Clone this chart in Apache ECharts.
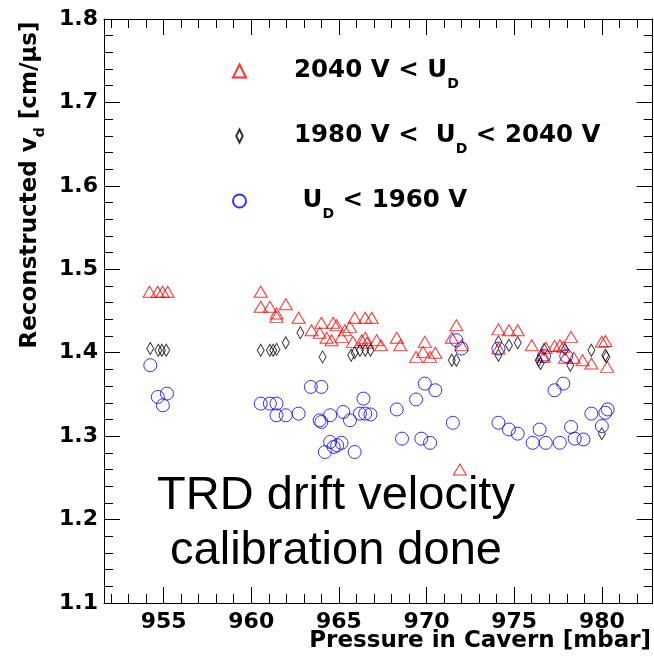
<!DOCTYPE html>
<html><head><meta charset="utf-8">
<script src="https://cdn.jsdelivr.net/npm/echarts@6/dist/echarts.min.js"></script>
<style>html,body{margin:0;padding:0;background:#fff}#c{width:654px;height:661px}</style>
</head><body><div id="c"></div>
<script>
// ---- data ----
const seriesNames = ['2040 V < U_D', '1980 V <  U_D < 2040 V', 'U_D < 1960 V'];
const xMajorTicks = [955, 960, 965, 970, 975, 980];
const xMinorTicks = [952,953,954,955,956,957,958,959,960,961,962,963,964,965,966,967,968,969,970,971,972,973,974,975,976,977,978,979,980,981,982];
const yTickLabels = ['1.1','1.2','1.3','1.4','1.5','1.6','1.7','1.8'];

const highP = [954.2,954.66,954.94,955.23,960.54,960.54,961.06,961.97,961.44,961.44,962.7,963.44,964.0,963.9,964.3,964.58,964.67,964.87,965.15,965.34,965.63,965.9,966.5,966.87,965.8,966.3,966.5,966.6,967.15,967.4,968.3,968.5,969.9,969.4,969.8,970.2,970.5,971.7,971.44,972.0,971.9,974.1,974.7,975.2,976.0,976.8,976.6,976.7,977.3,977.6,977.8,978.24,977.9,978.4,978.9,979.4,980.0,980.2,980.3,974.1];
const highV = [1.473,1.473,1.473,1.473,1.473,1.455,1.455,1.458,1.447,1.443,1.442,1.427,1.436,1.424,1.418,1.415,1.436,1.433,1.419,1.427,1.431,1.442,1.442,1.442,1.413,1.415,1.418,1.412,1.415,1.409,1.418,1.409,1.413,1.395,1.401,1.395,1.400,1.433,1.418,1.409,1.260,1.428,1.427,1.427,1.409,1.406,1.397,1.395,1.408,1.409,1.407,1.419,1.394,1.394,1.391,1.387,1.413,1.414,1.383,1.405];

const midP = [954.24,954.7,954.9,955.15,960.54,961.06,961.25,961.44,961.97,962.8,964.07,965.7,965.9,966.2,966.5,966.8,971.44,971.7,974.1,974.1,974.7,975.2,976.7,976.4,976.5,977.9,978.2,979.4,980.2,980.26,980.0];
const midV = [1.405,1.403,1.403,1.403,1.403,1.403,1.403,1.404,1.412,1.424,1.395,1.397,1.400,1.403,1.403,1.403,1.391,1.391,1.413,1.397,1.409,1.412,1.404,1.391,1.387,1.404,1.385,1.403,1.397,1.395,1.303];

const lowP = [954.24,954.67,955.19,954.96,960.54,961.06,961.44,961.44,961.97,962.7,963.4,964.0,963.9,964.0,964.5,965.25,965.63,966.4,966.2,966.5,966.8,968.3,968.6,969.4,969.9,970.5,969.7,970.2,971.5,971.7,972.0,964.5,964.7,964.9,965.15,964.2,965.9,974.1,974.1,974.7,975.2,976.45,976.05,976.8,977.6,976.7,977.97,977.3,977.8,978.24,978.45,978.95,979.4,980.0,980.2,980.33];
const lowV = [1.385,1.347,1.351,1.337,1.339,1.339,1.339,1.325,1.325,1.327,1.359,1.359,1.319,1.317,1.325,1.329,1.319,1.345,1.327,1.327,1.326,1.332,1.297,1.344,1.363,1.355,1.297,1.292,1.316,1.415,1.405,1.293,1.287,1.289,1.292,1.281,1.281,1.405,1.316,1.308,1.303,1.308,1.292,1.292,1.292,1.396,1.396,1.355,1.363,1.311,1.297,1.296,1.327,1.312,1.328,1.332];

const pairs = (xs, ys) => xs.map((x, i) => [x, ys[i]]);

// ---- chart ----
const chart = echarts.init(document.getElementById('c'), null, {renderer: 'canvas'});
const AX = '#000';
const labelFont = {fontFamily: 'DejaVu Sans', fontWeight: 'bold', fontSize: 22, color: '#000'};
const xBase = {
  type: 'value', min: 951.6, max: 982.9, gridIndex: 0,
  splitLine: {show: false}
};
const option = {
  animation: false,
  backgroundColor: '#fff',
  grid: {left: 104, right: 1.3, top: 19, bottom: 58, containLabel: false},
  xAxis: [
    Object.assign({}, xBase, {position: 'bottom',
      axisLine: {show: true, lineStyle: {color: AX, width: 1}},
      axisTick: {show: true, inside: true, length: 16, lineStyle: {color: AX}, customValues: xMajorTicks},
      axisLabel: Object.assign({show: true, margin: 8, customValues: xMajorTicks}, labelFont)}),
    Object.assign({}, xBase, {position: 'bottom',
      axisLine: {show: false},
      axisTick: {show: true, inside: true, length: 9, lineStyle: {color: AX}, customValues: xMinorTicks},
      axisLabel: {show: false}}),
    Object.assign({}, xBase, {position: 'top',
      axisLine: {show: true, lineStyle: {color: AX, width: 1}},
      axisTick: {show: true, inside: true, length: 16, lineStyle: {color: AX}, customValues: xMajorTicks},
      axisLabel: {show: false}}),
    Object.assign({}, xBase, {position: 'top',
      axisLine: {show: false},
      axisTick: {show: true, inside: true, length: 9, lineStyle: {color: AX}, customValues: xMinorTicks},
      axisLabel: {show: false}})
  ],
  yAxis: [
    {type: 'value', position: 'left', min: 1.1, max: 1.8, interval: 0.1,
      axisLine: {show: true, lineStyle: {color: AX, width: 1}},
      axisTick: {show: true, inside: true, length: 16, lineStyle: {color: AX}},
      minorTick: {show: true, splitNumber: 5, length: 9, lineStyle: {color: AX}},
      splitLine: {show: false},
      axisLabel: Object.assign({margin: 6, formatter: v => yTickLabels[Math.round((v - 1.1) * 10)] || v.toFixed(1)}, labelFont)},
    {type: 'value', position: 'right', min: 1.1, max: 1.8, interval: 0.1,
      axisLine: {show: true, lineStyle: {color: AX, width: 1}},
      axisTick: {show: true, inside: true, length: 16, lineStyle: {color: AX}},
      minorTick: {show: true, splitNumber: 5, length: 9, lineStyle: {color: AX}},
      splitLine: {show: false},
      axisLabel: {show: false}}
  ],
  legend: {
    orient: 'vertical', left: 227, top: 46,
    itemWidth: 13, itemHeight: 13, itemGap: 25,
    selectedMode: false,
    data: [
      {name: seriesNames[0], icon: 'triangle'},
      {name: seriesNames[1], icon: 'path://M0,0L5,10L0,20L-5,10Z'},
      {name: seriesNames[2], icon: 'circle'}
    ],
    formatter: function (name) {
      if (name === seriesNames[0]) return '2040 V < U{sub|D}';
      if (name === seriesNames[1]) return '1980 V <  U{sub|D} < 2040 V';
      return ' U{sub|D} < 1960 V';
    },
    textStyle: {
      fontFamily: 'DejaVu Sans', fontWeight: 'bold', fontSize: 24.5, color: '#000',
      lineHeight: 40, padding: [0, 0, 0, 43],
      rich: {sub: {fontFamily: 'DejaVu Sans', fontWeight: 'bold', fontSize: 14, lineHeight: 14, verticalAlign: 'bottom', color: '#000'}}
    }
  },
  graphic: [
    {type: 'text', x: 30, y: 185, rotation: Math.PI / 2,
      style: {text: 'Reconstructed v{sub|d} [cm/μs]', align: 'center', verticalAlign: 'middle',
        fontFamily: 'DejaVu Sans', fontWeight: 'bold', fontSize: 23, fill: '#000', lineHeight: 34,
        rich: {sub: {fontFamily: 'DejaVu Sans', fontWeight: 'bold', fontSize: 14, lineHeight: 14, verticalAlign: 'bottom', fill: '#000'}}}},
    {type: 'text', x: 651, y: 641,
      style: {text: 'Pressure in Cavern [mbar]', align: 'right', verticalAlign: 'middle',
        fontFamily: 'DejaVu Sans', fontWeight: 'bold', fontSize: 23, fill: '#000'}},
    {type: 'text', x: 336, y: 524,
      style: {text: 'TRD drift velocity\ncalibration done', align: 'center', verticalAlign: 'middle',
        fontFamily: 'Liberation Sans', fontWeight: 'normal', fontSize: 47, lineHeight: 55, fill: '#000'}}
  ],
  series: [
    {name: seriesNames[0], type: 'scatter', xAxisIndex: 0, yAxisIndex: 0,
      symbol: 'triangle', symbolSize: [13, 11], data: pairs(highP, highV),
      itemStyle: {color: 'rgba(0,0,0,0)', borderColor: '#ff0000', borderWidth: 1}},
    {name: seriesNames[1], type: 'scatter', xAxisIndex: 0, yAxisIndex: 0,
      symbol: 'diamond', symbolSize: [7, 12], data: pairs(midP, midV),
      itemStyle: {color: 'rgba(0,0,0,0)', borderColor: '#000000', borderWidth: 1}},
    {name: seriesNames[2], type: 'scatter', xAxisIndex: 0, yAxisIndex: 0,
      symbol: 'circle', symbolSize: 13, data: pairs(lowP, lowV),
      itemStyle: {color: 'rgba(0,0,0,0)', borderColor: '#0000ff', borderWidth: 1}}
  ]
};
chart.setOption(option);
</script>
</body></html>
